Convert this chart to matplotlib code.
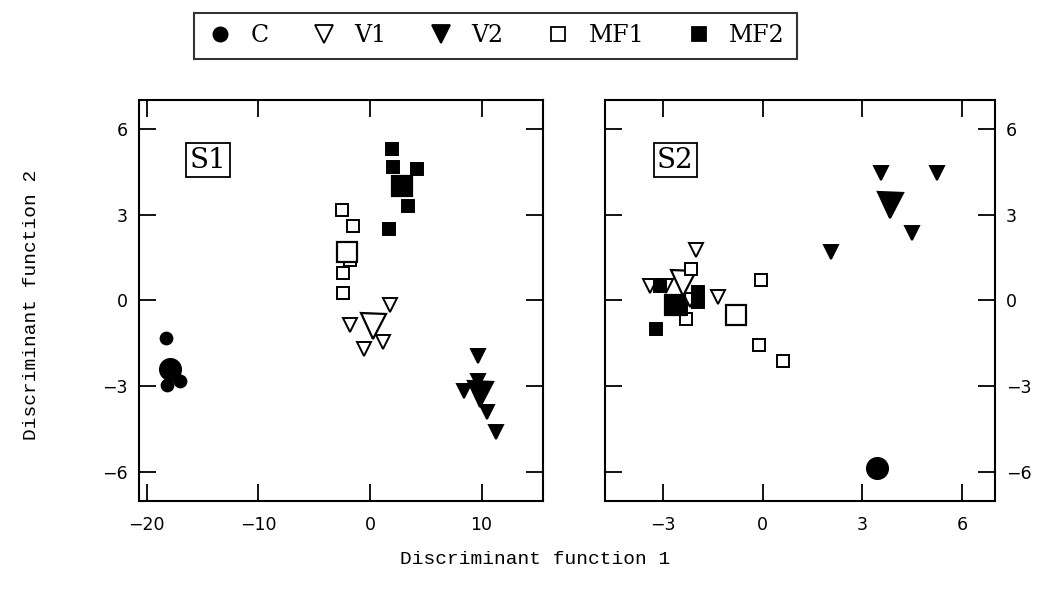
import matplotlib.pyplot as plt
from matplotlib.lines import Line2D

# Scores on the discriminant functions
# Panel S1
s1_C_x = [-18.3, -18.2, -17.0, -17.6]
s1_C_y = [-1.3, -2.95, -2.8, -2.6]
s1_V1_x = [1.8, -1.8, 0.3, 1.2, -0.5]
s1_V1_y = [-0.15, -0.85, -0.75, -1.45, -1.7]
s1_V2_x = [9.7, 9.7, 8.4, 10.5, 11.3]
s1_V2_y = [-1.95, -2.8, -3.15, -3.9, -4.6]
s1_MF1_x = [-2.5, -1.5, -1.8, -2.4, -2.4]
s1_MF1_y = [3.15, 2.6, 1.4, 0.95, 0.25]
s1_MF2_x = [2.0, 2.1, 4.2, 3.4, 1.7]
s1_MF2_y = [5.3, 4.65, 4.6, 3.3, 2.5]
# group centroids (big symbols) for S1, order C, V1, V2, MF1, MF2
s1_cent_x = [-17.9, 0.3, 9.9, -2.1, 2.9]
s1_cent_y = [-2.4, -0.9, -3.25, 1.7, 4.0]

# Panel S2
s2_C_x = [-2.7]
s2_C_y = [-0.2]
s2_V1_x = [-2.0, -3.4, -2.9, -1.35, -2.2]
s2_V1_y = [1.75, 0.5, 0.5, 0.12, 0.0]
s2_V2_x = [3.55, 5.25, 4.5, 2.05]
s2_V2_y = [4.45, 4.45, 2.35, 1.7]
s2_MF1_x = [-2.15, -0.05, -2.3, -0.1, 0.6]
s2_MF1_y = [1.1, 0.7, -0.65, -1.55, -2.1]
s2_MF2_x = [-3.2, -3.1, -1.95, -1.95, -2.45]
s2_MF2_y = [-1.0, 0.5, 0.3, -0.05, -0.3]
s2_cent_x = [3.45, -2.4, 3.85, -0.8, -2.65]
s2_cent_y = [-5.85, 0.6, 3.35, -0.5, -0.15]

groups = ['C', 'V1', 'V2', 'MF1', 'MF2']

# marker, filled, small size, centroid size
styles = {
    'C': ('o', True, 8.5, 15),
    'V1': ('v', False, 10.5, 18),
    'V2': ('v', True, 10.5, 18),
    'MF1': ('s', False, 8.5, 14),
    'MF2': ('s', True, 8.5, 14),
}

fig = plt.figure(figsize=(10.39, 5.97), dpi=100)
ax1 = fig.add_axes([0.1338, 0.1608, 0.3888, 0.6717])
ax2 = fig.add_axes([0.5823, 0.1608, 0.3754, 0.6717])


def draw_panel(ax, pts, cent_x, cent_y):
    for i, g in enumerate(groups):
        m, filled, small, big = styles[g]
        fc = 'black' if filled else 'white'
        xs, ys = pts[g]
        ax.plot(xs, ys, linestyle='none', marker=m, markersize=small,
                markerfacecolor=fc, markeredgecolor='black', markeredgewidth=1.4, zorder=3)
        ax.plot(cent_x[i], cent_y[i], linestyle='none', marker=m, markersize=big,
                markerfacecolor=fc, markeredgecolor='black', markeredgewidth=1.6, zorder=3)


draw_panel(ax1, {'C': (s1_C_x, s1_C_y), 'V1': (s1_V1_x, s1_V1_y), 'V2': (s1_V2_x, s1_V2_y),
                 'MF1': (s1_MF1_x, s1_MF1_y), 'MF2': (s1_MF2_x, s1_MF2_y)}, s1_cent_x, s1_cent_y)
draw_panel(ax2, {'C': (s2_C_x, s2_C_y), 'V1': (s2_V1_x, s2_V1_y), 'V2': (s2_V2_x, s2_V2_y),
                 'MF1': (s2_MF1_x, s2_MF1_y), 'MF2': (s2_MF2_x, s2_MF2_y)}, s2_cent_x, s2_cent_y)

# axes limits and ticks
ax1.set_xlim(-20.7, 15.5)
ax1.set_ylim(-7, 7)
ax1.set_xticks([-20, -10, 0, 10])
ax1.set_xticklabels(['\u221220', '\u221210', '0', '10'])
ax2.set_xlim(-4.75, 7.0)
ax2.set_ylim(-7, 7)
ax2.set_xticks([-3, 0, 3, 6])
ax2.set_xticklabels(['\u22123', '0', '3', '6'])
for ax in (ax1, ax2):
    ax.set_yticks([-6, -3, 0, 3, 6])
    ax.set_yticklabels(['\u22126', '\u22123', '0', '3', '6'])
    ax.tick_params(direction='in', length=12, width=1.3, top=True, right=True,
                   labelsize=12.5)
    ax.tick_params(axis='x', pad=11)
    ax.tick_params(axis='y', pad=8)
    for sp in ax.spines.values():
        sp.set_linewidth(1.5)
ax2.tick_params(labelleft=False, labelright=True)

# panel labels
box = dict(boxstyle='square,pad=0.12', facecolor='white', edgecolor='black', linewidth=1.3)
ax1.text(0.171, 0.85, 'S1', transform=ax1.transAxes, fontsize=20, family='DejaVu Serif',
         ha='center', va='center', bbox=box)
ax2.text(0.18, 0.85, 'S2', transform=ax2.transAxes, fontsize=20, family='DejaVu Serif',
         ha='center', va='center', bbox=box)

# axis titles
fig.text(0.515, 0.063, 'Discriminant function 1', ha='center', va='center',
         fontsize=14, family='Liberation Mono')
fig.text(0.03, 0.49, 'Discriminant function 2', ha='center', va='center',
         rotation=90, fontsize=14, family='Liberation Mono')

# legend across the top
handles = []
for g in groups:
    m, filled, small, big = styles[g]
    handles.append(Line2D([], [], linestyle='none', marker=m, markersize=small * 1.2,
                          markerfacecolor='black' if filled else 'white',
                          markeredgecolor='black', markeredgewidth=1.3, label=g))
leg = fig.legend(handles=handles, loc='center', bbox_to_anchor=(0.477, 0.94), ncol=5,
                 frameon=True, fancybox=False, edgecolor='black', handletextpad=0.7,
                 columnspacing=1.7, prop={'family': 'DejaVu Serif', 'size': 17},
                 borderpad=0.5, handlelength=1.2)
leg.get_frame().set_linewidth(1.5)

fig.savefig('out.png', dpi=100)
